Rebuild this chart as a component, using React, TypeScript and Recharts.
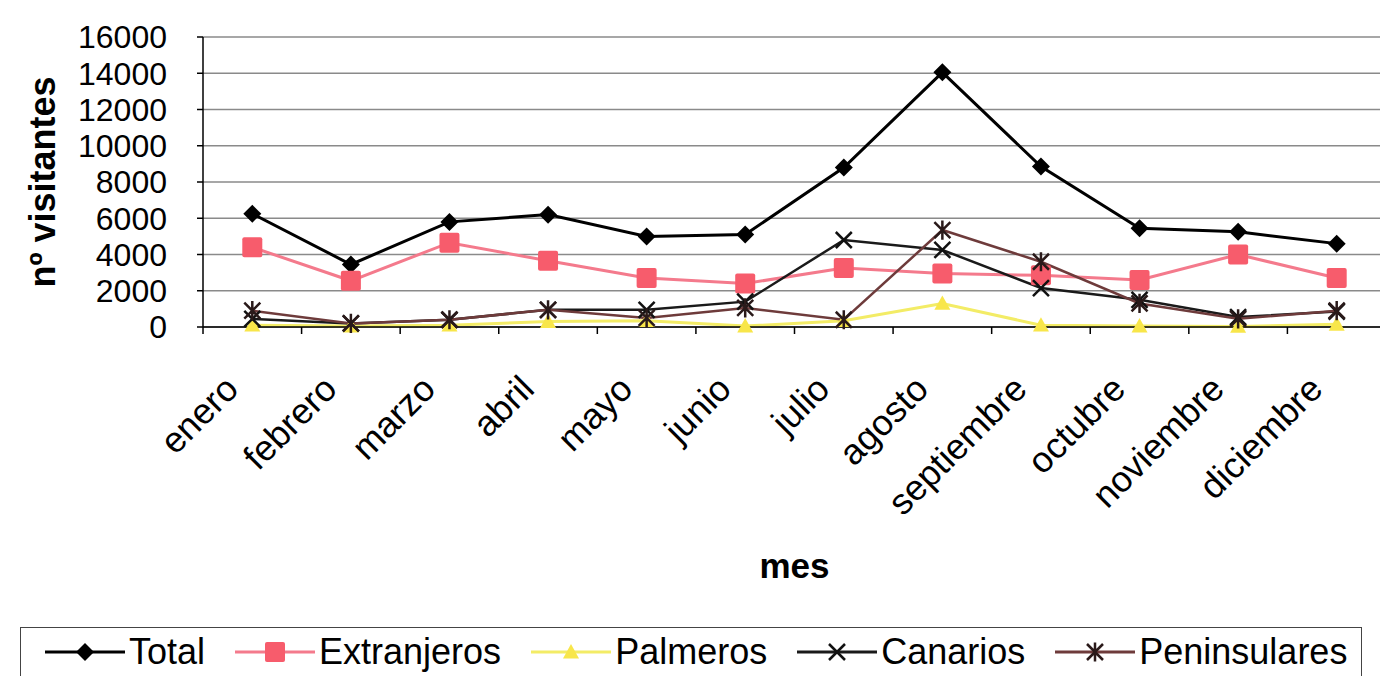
import React from 'react';
import { LineChart, Line, XAxis, YAxis, CartesianGrid, Legend } from 'recharts';

const months = ['enero', 'febrero', 'marzo', 'abril', 'mayo', 'junio', 'julio', 'agosto', 'septiembre', 'octubre', 'noviembre', 'diciembre'];
const total = [6250, 3450, 5800, 6200, 5000, 5100, 8800, 14050, 8850, 5450, 5250, 4600];
const extranjeros = [4400, 2550, 4650, 3650, 2700, 2400, 3250, 2950, 2850, 2600, 4000, 2700];
const palmeros = [100, 50, 100, 300, 350, 50, 350, 1300, 100, 50, 30, 150];
const canarios = [450, 200, 400, 950, 950, 1400, 4800, 4250, 2150, 1500, 550, 850];
const peninsulares = [900, 200, 400, 950, 500, 1050, 400, 5350, 3600, 1300, 450, 900];
const yTicks = [0, 2000, 4000, 6000, 8000, 10000, 12000, 14000, 16000];

const data = months.map((mes, i) => ({
    mes,
    Total: total[i],
    Extranjeros: extranjeros[i],
    Palmeros: palmeros[i],
    Canarios: canarios[i],
    Peninsulares: peninsulares[i],
}));

const FONT = '"Liberation Sans", Arial, sans-serif';

// marker shapes
const Diamond = ({ cx, cy, r = 9, fill = '#000' }: any) => (
    <path d={`M${cx},${cy - r}L${cx + r},${cy}L${cx},${cy + r}L${cx - r},${cy}Z`} fill={fill} />
);
const Square = ({ cx, cy, r = 10, fill }: any) => (
    <rect x={cx - r} y={cy - r} width={r * 2} height={r * 2} rx={2} fill={fill} />
);
const Triangle = ({ cx, cy, r = 8, fill }: any) => (
    <path d={`M${cx},${cy - r}L${cx + r},${cy + r * 0.8}L${cx - r},${cy + r * 0.8}Z`} fill={fill} />
);
const Cross = ({ cx, cy, r = 8, stroke = '#111' }: any) => (
    <path d={`M${cx - r},${cy - r}L${cx + r},${cy + r}M${cx - r},${cy + r}L${cx + r},${cy - r}`} stroke={stroke} strokeWidth={2.5} fill="none" />
);
const Star = ({ cx, cy, r = 8, stroke = '#2a1a1a' }: any) => (
    <path d={`M${cx - r},${cy - r}L${cx + r},${cy + r}M${cx - r},${cy + r}L${cx + r},${cy - r}M${cx},${cy - r * 1.2}L${cx},${cy + r * 1.2}`} stroke={stroke} strokeWidth={2.5} fill="none" />
);

const SERIES = [
    { key: 'Total', line: '#000000', width: 3, Marker: Diamond, mark: { fill: '#000' } },
    { key: 'Extranjeros', line: '#f47a8c', width: 3, Marker: Square, mark: { fill: '#f75c6c' } },
    { key: 'Palmeros', line: '#f3ec66', width: 3, Marker: Triangle, mark: { fill: '#f8e64a' } },
    { key: 'Canarios', line: '#1a1a1a', width: 2.5, Marker: Cross, mark: { stroke: '#111' } },
    { key: 'Peninsulares', line: '#6e3b3b', width: 2.5, Marker: Star, mark: { stroke: '#2a1a1a' } },
];

const MonthTick = (props: any) => {
    const { x, y, payload, index, width, visibleTicksCount } = props;
    const step = width && visibleTicksCount ? width / visibleTicksCount : 98.6;
    const half = step / 2;
    const ax = x - 12;
    const ay = y + 64;
    return (
        <g>
            <line x1={x - half} x2={x - half} y1={y} y2={y + 7} stroke="#000" strokeWidth={1.5} />
            {index === visibleTicksCount - 1 && (
                <line x1={x + half} x2={x + half} y1={y} y2={y + 7} stroke="#000" strokeWidth={1.5} />
            )}
            <text x={ax} y={ay} textAnchor="end" transform={`rotate(-45 ${ax} ${ay})`} fontSize={36} fill="#000">
                {payload.value}
            </text>
        </g>
    );
};

const YTitle = ({ viewBox }: any) => {
    const cx = 42;
    const cy = viewBox.y + viewBox.height / 2;
    return (
        <text x={cx} y={cy} transform={`rotate(-90 ${cx} ${cy})`} textAnchor="middle" dominantBaseline="central"
            fontSize={36} fontWeight="bold" fill="#000">
            nº visitantes
        </text>
    );
};

const XTitle = ({ viewBox }: any) => (
    <text x={viewBox.x + viewBox.width / 2} y={viewBox.y + 251} textAnchor="middle" fontSize={35} fontWeight="bold" fill="#000">
        mes
    </text>
);

const LegendBox = () => (
    <div style={{
        boxSizing: 'border-box', height: 49, width: 1342, borderTop: '1.5px solid #444', borderLeft: '1.5px solid #444',
        borderRight: '1.5px solid #444', display: 'flex', alignItems: 'center', paddingLeft: 24, gap: 30,
        fontFamily: FONT, fontSize: 36, color: '#000',
    }}>
        {SERIES.map(s => (
            <div key={s.key} style={{ display: 'flex', alignItems: 'center', gap: 4 }}>
                <svg width={80} height={30}>
                    <line x1={0} x2={80} y1={15} y2={15} stroke={s.line} strokeWidth={3} />
                    <s.Marker cx={40} cy={15} {...s.mark} />
                </svg>
                <span>{s.key}</span>
            </div>
        ))}
    </div>
);

export default function App() {
    return (
        <div style={{ position: 'absolute', left: 0, top: 0, width: 1380, height: 676, overflow: 'hidden', background: '#fff', fontFamily: FONT }}>
            <LineChart width={1386} height={676} data={data} margin={{ top: 37, right: 0, bottom: 0, left: 0 }}>
                <CartesianGrid vertical={false} stroke="#8a8a8a" strokeWidth={1.5} />
                <XAxis dataKey="mes" height={300} interval={0} tickLine={false} tickSize={0} tickMargin={0}
                    padding={{ left: 49.3, right: 49.3 }}
                    axisLine={{ stroke: '#000', strokeWidth: 1.5 }} tick={<MonthTick />} label={<XTitle />} />
                <YAxis width={203} domain={[0, 16000]} ticks={yTicks} interval={0} tickSize={6} tickMargin={30}
                    axisLine={{ stroke: '#000', strokeWidth: 1.5 }} tickLine={{ stroke: '#000', strokeWidth: 1.5 }}
                    tick={{ fill: '#000', fontSize: 32 }} label={<YTitle />} />
                {SERIES.map(s => (
                    <Line key={s.key} dataKey={s.key} stroke={s.line} strokeWidth={s.width} isAnimationActive={false}
                        dot={(p: any) => <s.Marker key={`${s.key}-${p.index}`} cx={p.cx} cy={p.cy} {...s.mark} />}
                        activeDot={false} />
                ))}
                <Legend verticalAlign="bottom" content={<LegendBox />}
                    wrapperStyle={{ left: 20, bottom: 0, width: 1342, height: 49 }} />
            </LineChart>
        </div>
    );
}
